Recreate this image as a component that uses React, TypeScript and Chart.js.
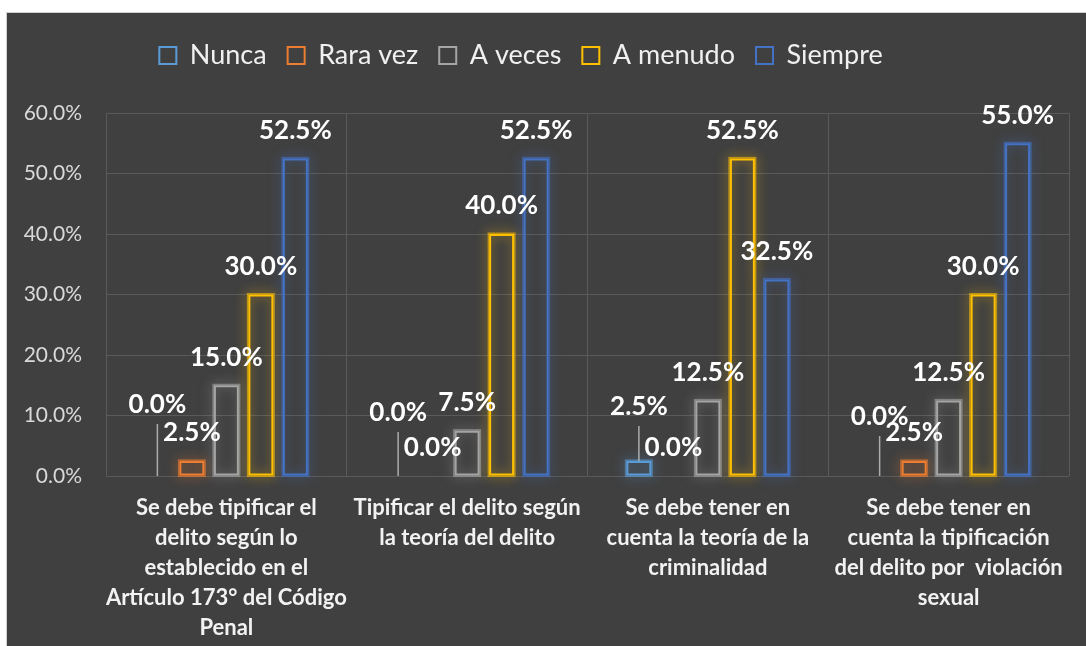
import React, { useEffect, useRef } from 'react';
import { Chart, registerables } from 'chart.js';

Chart.register(...registerables);

const categories: string[][] = [
  ['Se debe tipificar el', 'delito según lo', 'establecido en el', 'Artículo 173° del Código', 'Penal'],
  ['Tipificar el delito según', 'la teoría del delito'],
  ['Se debe tener en', 'cuenta la teoría de la', 'criminalidad'],
  ['Se debe tener en', 'cuenta la tipificación', 'del delito por  violación', 'sexual'],
];

const seriesNames = ['Nunca', 'Rara vez', 'A veces', 'A menudo', 'Siempre'];
const nunca = [0, 0, 2.5, 0];
const raraVez = [2.5, 0, 0, 2.5];
const aVeces = [15, 7.5, 12.5, 12.5];
const aMenudo = [30, 40, 52.5, 30];
const siempre = [52.5, 52.5, 32.5, 55];
const seriesValues = [nunca, raraVez, aVeces, aMenudo, siempre];

const yMax = 60;
const yStep = 10;

const colors = ['#5B9BD5', '#ED7D31', '#A5A5A5', '#FFC000', '#4472C4'];

// extra lift (px) of crowded data labels, drawn with a leader line
const labelLift = [
  [43, 35, 26, 31],
  [0, 0, 0, 0],
  [0, 0, 0, 0],
  [0, 0, 0, 0],
  [0, 0, 0, 0],
];

const FONT = "Lato, 'Open Sans', sans-serif";

const glowPlugin = {
  id: 'barGlow',
  beforeDatasetsDraw(chart: any) {
    const ctx = chart.ctx;
    chart.data.datasets.forEach((ds: any, di: number) => {
      const meta = chart.getDatasetMeta(di);
      meta.data.forEach((el: any, i: number) => {
        if (!ds.data[i]) return;
        const { x, y, base, width } = el.getProps(['x', 'y', 'base', 'width'], true);
        ctx.save();
        ctx.shadowColor = colors[di];
        ctx.shadowBlur = 12;
        ctx.strokeStyle = colors[di] + '99';
        ctx.lineWidth = 3;
        ctx.strokeRect(x - width / 2, y, width, base - y);
        ctx.restore();
      });
    });
  },
};

const labelPlugin = {
  id: 'valueLabels',
  afterDatasetsDraw(chart: any) {
    const ctx = chart.ctx;
    ctx.save();
    ctx.font = `bold 26px ${FONT}`;
    ctx.fillStyle = '#ffffff';
    ctx.textAlign = 'center';
    ctx.textBaseline = 'middle';
    chart.data.datasets.forEach((ds: any, di: number) => {
      const meta = chart.getDatasetMeta(di);
      meta.data.forEach((el: any, i: number) => {
        const { x, y } = el.getProps(['x', 'y'], true);
        const lift = labelLift[di][i];
        const ly = y - 28 - lift;
        if (lift > 0) {
          ctx.save();
          ctx.strokeStyle = 'rgba(190,190,190,0.85)';
          ctx.lineWidth = 1.5;
          ctx.beginPath();
          ctx.moveTo(x, ly + 19);
          ctx.lineTo(x, y);
          ctx.stroke();
          ctx.restore();
        }
        ctx.fillText(Number(ds.data[i]).toFixed(1) + '%', x, ly);
      });
    });
    ctx.restore();
  },
};

const legendLayoutPlugin = {
  id: 'legendLayout',
  beforeInit(chart: any) {
    const legend = chart.legend;
    if (!legend) return;
    const orig = legend.fit;
    legend.fit = function () {
      orig.call(this);
      this.height = 100;
    };
  },
  afterLayout(chart: any) {
    const legend = chart.legend;
    if (!legend) return;
    legend.left -= 17;
    legend.right -= 17;
    legend.top += 8;
  },
};

export default function App() {
  const ref = useRef<HTMLCanvasElement | null>(null);

  useEffect(() => {
    if (!ref.current) return;
    const chart = new Chart(ref.current, {
      type: 'bar',
      data: {
        labels: categories,
        datasets: seriesNames.map((name, i) => ({
          label: name,
          data: seriesValues[i],
          backgroundColor: 'rgba(0,0,0,0)',
          borderColor: colors[i],
          borderWidth: 2,
          borderSkipped: false,
          categoryPercentage: 0.7165,
          barPercentage: 0.725,
        })),
      },
      options: {
        responsive: false,
        animation: false,
        layout: { padding: { top: 0, left: 0, right: 17, bottom: 0 } },
        plugins: {
          legend: {
            position: 'top',
            labels: {
              color: '#f0f0f0',
              font: { family: FONT, size: 27 },
              boxWidth: 17,
              boxHeight: 17,
              padding: 21,
            },
          },
          tooltip: { enabled: false },
        },
        scales: {
          x: {
            grid: { color: '#5a5a5a', lineWidth: 1, drawTicks: false, offset: true },
            border: { display: false },
            ticks: {
              color: '#f2f2f2',
              font: { family: FONT, size: 22, weight: 'bold', lineHeight: '30px' },
              padding: 17,
              maxRotation: 0,
              autoSkip: false,
            },
            afterFit(scale: any) {
              scale.height = 170;
            },
          },
          y: {
            min: 0,
            max: yMax,
            grid: { color: '#5a5a5a', lineWidth: 1, drawTicks: false },
            border: { display: false },
            ticks: {
              stepSize: yStep,
              color: '#d9d9d9',
              font: { family: FONT, size: 21 },
              padding: 24,
              callback: (v: any) => Number(v).toFixed(1) + '%',
            },
            afterFit(scale: any) {
              scale.width = 99;
            },
          },
        },
      },
      plugins: [legendLayoutPlugin, glowPlugin, labelPlugin],
    } as any);
    return () => chart.destroy();
  }, []);

  return (
    <div
      style={{
        position: 'absolute',
        left: 6,
        top: 12,
        width: 1080,
        height: 634,
        boxSizing: 'border-box',
        borderTop: '1px solid #d0d0d0',
        borderLeft: '1px solid #d0d0d0',
        background: '#404040',
      }}
    >
      <canvas ref={ref} width={1079} height={633} style={{ display: 'block' }} />
    </div>
  );
}
